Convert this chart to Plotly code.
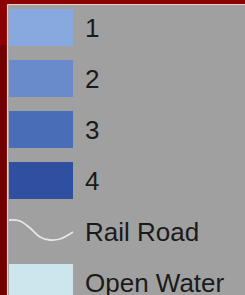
import plotly.graph_objects as go

# Legend content
labels = ["1", "2", "3", "4", "Rail Road", "Open Water"]
kinds = ["box", "box", "box", "box", "line", "box"]
colors = ["#88A8E0", "#6A8BCB", "#4A6DB8", "#2F4FA0", "#E6E6E6", "#CDE6EE"]

# Rail road glyph shape (offsets within its row)
wave_x = [9, 20, 30, 40, 50, 60, 73]
wave_dy = [-11.5, -10.5, -3.5, 5.5, 8.5, 7.5, 0.5]

W, H = 245, 295
ROW = 51.0       # px per legend row
FIRST = 27.5     # px centre of first row
TEXT_SHIFT = 3.0 # px, text baseline nudge

idx = list(range(len(labels)))
box_idx = [i for i in idx if kinds[i] == "box"]

fig = go.Figure()

fig.add_trace(go.Bar(
    orientation="h",
    y=box_idx,
    x=[64] * len(box_idx),
    base=[9] * len(box_idx),
    width=37 / ROW,
    marker=dict(color=[colors[i] for i in box_idx], line=dict(width=0)),
    hoverinfo="skip",
))

for i in idx:
    if kinds[i] == "line":
        fig.add_trace(go.Scatter(
            x=wave_x,
            y=[i + d / ROW for d in wave_dy],
            mode="lines",
            line=dict(color=colors[i], width=1.8, shape="spline"),
            hoverinfo="skip",
        ))

fig.add_trace(go.Scatter(
    x=[85] * len(labels),
    y=[i + TEXT_SHIFT / ROW for i in idx],
    mode="text",
    text=labels,
    textposition="middle right",
    textfont=dict(family="Liberation Sans, Arial, sans-serif", size=26, color="#1A1A1A"),
    hoverinfo="skip",
))

shapes = [
    # grey panel
    dict(type="rect", xref="paper", yref="paper", x0=8 / W, x1=1, y0=0, y1=1 - 5 / H,
         fillcolor="#A0A0A0", line=dict(width=0), layer="below"),
    # top red band (brighter)
    dict(type="rect", xref="paper", yref="paper", x0=0, x1=1, y0=1 - 4 / H, y1=1,
         fillcolor="#8B0000", line=dict(width=0), layer="below"),
    dict(type="rect", xref="paper", yref="paper", x0=0, x1=7 / W, y0=1 - 45 / H, y1=1,
         fillcolor="#8B0000", line=dict(width=0), layer="below"),
    # light inner edges
    dict(type="line", xref="paper", yref="paper", x0=7.5 / W, x1=1, y0=1 - 4.5 / H, y1=1 - 4.5 / H,
         line=dict(color="#E8D0D0", width=1.2), layer="below"),
    dict(type="line", xref="paper", yref="paper", x0=7.5 / W, x1=7.5 / W, y0=0, y1=1 - 4.5 / H,
         line=dict(color="#E8D0D0", width=1.2), layer="below"),
]

fig.update_layout(
    width=W, height=H,
    margin=dict(l=0, r=0, t=0, b=0),
    paper_bgcolor="#720000",
    plot_bgcolor="rgba(0,0,0,0)",
    showlegend=False,
    shapes=shapes,
    barmode="overlay",
    xaxis=dict(range=[0, W], visible=False, fixedrange=True),
    yaxis=dict(range=[(H - FIRST) / ROW, -FIRST / ROW], visible=False, fixedrange=True),
)

fig.write_html(
    "out.html",
    config={"displayModeBar": False},
    post_script="document.body.style.margin='0';document.body.style.overflow='hidden';",
)
